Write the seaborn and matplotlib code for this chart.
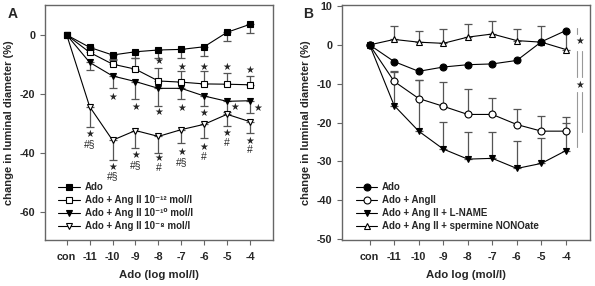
import matplotlib
matplotlib.use("Agg")
import numpy as np
import seaborn as sns
import matplotlib.pyplot as plt
from matplotlib.lines import Line2D

sns.set_style("ticks")
plt.rcParams['font.family'] = ['Liberation Sans', 'DejaVu Sans']
plt.rcParams['font.weight'] = 'bold'
plt.rcParams['axes.unicode_minus'] = False

# data
doses = ["con", "-11", "-10", "-9", "-8", "-7", "-6", "-5", "-4"]

# panel A
ado_a = [0, -4.2, -6.8, -5.7, -5.1, -4.9, -4.0, 0.9, 3.6]
ado_a_err = [0, 1.0, 1.2, 2.2, 2.8, 3.0, 3.0, 2.8, 2.8]
ang12 = [0, -5.9, -9.9, -11.6, -15.6, -16.0, -16.6, -16.7, -16.9]
ang12_err = [0, 1.0, 1.5, 3.7, 4.5, 3.8, 4.4, 3.9, 3.0]
ang10 = [0, -9.3, -13.9, -15.8, -18.1, -18.1, -20.7, -22.5, -22.3]
ang10_err = [0, 2.6, 4.2, 5.9, 5.9, 3.6, 3.4, 3.5, 4.0]
ang8 = [0, -24.3, -35.7, -32.4, -34.4, -32.1, -30.3, -26.9, -29.4]
ang8_err = [0, 6.8, 6.8, 6.0, 5.6, 4.6, 4.7, 3.9, 3.7]

# significance marks, panel A
star12_y = [-8.8, -10.7, -10.7, -10.7, -11.9]          # -8 .. -4
star10_y = [-20.9, -24.3, -26.2, -24.9, -26.5, -24.4, -24.9]  # -10 .. -4
star8_y = [-33.7, -44.7, -40.7, -41.8, -39.7, -37.9, -33.3, -35.9]  # -11 .. -4
sym8_y = [-37.0, -47.9, -44.2, -45.1, -43.1, -41.4, -36.8, -39.1]
sym8_txt = ["#§", "#§", "#§", "#", "#§", "#", "#", "#"]

# panel B
ado_b = [0, -4.3, -6.8, -5.7, -5.1, -4.9, -4.0, 0.8, 3.7]
angii = [0, -9.4, -13.8, -15.8, -17.9, -17.9, -20.5, -22.2, -22.2]
angii_err = [0, 2.8, 4.8, 6.2, 6.6, 4.2, 3.9, 3.9, 3.6]
lname = [0, -15.6, -22.2, -26.8, -29.4, -29.2, -31.8, -30.5, -27.2]
lname_err = [0, 8.5, 13.2, 7.0, 7.0, 6.8, 7.0, 6.6, 7.0]
spermine = [0, 1.4, 0.7, 0.4, 2.0, 2.8, 1.1, 0.7, -1.2]
spermine_err = [0, 3.4, 3.0, 3.7, 3.4, 3.4, 3.0, 4.1, 4.5]

pos = np.arange(len(doses))
ebar_col = "#555555"


def series(ax, y, err, direction, marker, filled):
    if err is not None:
        zeros = [0] * len(err)
        yerr = [err, zeros] if direction == "down" else [zeros, err]
        ax.errorbar(pos[1:], y[1:], yerr=np.array(yerr)[:, 1:], fmt="none",
                    ecolor=ebar_col, elinewidth=0.9, capsize=3, capthick=0.9, zorder=1)
    sns.lineplot(x=pos, y=y, ax=ax, color="black", linewidth=0.8, marker=marker,
                 markersize=5, markerfacecolor="black" if filled else "white",
                 markeredgecolor="black", markeredgewidth=0.8, zorder=3)


def mk(marker, filled):
    return Line2D([], [], color="black", lw=0.8, marker=marker, ms=5,
                  mfc="black" if filled else "white", mec="black", mew=0.8)


def style_axes(ax, xlim, ylim, yticks, xlabel, handles, labels):
    ax.set_xlim(xlim)
    ax.set_ylim(ylim)
    ax.set_yticks(yticks)
    ax.set_xticks(pos)
    ax.set_xticklabels(doses)
    for s in ax.spines.values():
        s.set_color("#666666")
        s.set_linewidth(1.0)
    ax.tick_params(axis="both", labelsize=7.8, length=3.5, width=0.8, color="#666666")
    ax.tick_params(axis="x", pad=5)
    ax.set_xlabel(xlabel, fontsize=8.2, fontweight="bold", labelpad=6)
    ax.set_ylabel("change in luminal diameter (%)", fontsize=8, fontweight="bold", labelpad=4)
    ax.legend(handles, labels, loc="lower left", bbox_to_anchor=(0.02, 0.0), frameon=False,
              fontsize=7, handlelength=2.2, labelspacing=0.3, handletextpad=0.5)


fig = plt.figure(figsize=(5.95, 2.86), dpi=100)
axA = fig.add_axes([0.0756, 0.161, 0.383, 0.822])
axB = fig.add_axes([0.575, 0.161, 0.417, 0.822])

# panel A
series(axA, ang8, ang8_err, "down", "v", False)
series(axA, ang10, ang10_err, "down", "v", True)
series(axA, ang12, ang12_err, "up", "s", False)
series(axA, ado_a, ado_a_err, "down", "s", True)
star_kw = dict(ha="center", va="center", fontsize=7, family=["DejaVu Sans"])
for i, yv in enumerate(star12_y):
    axA.text(pos[4 + i], yv, "★", **star_kw)
for i, yv in enumerate(star10_y):
    dx = 0.32 if i >= 5 else 0
    axA.text(pos[2 + i] + dx, yv, "★", **star_kw)
for i, yv in enumerate(star8_y):
    axA.text(pos[1 + i], yv, "★", **star_kw)
    axA.text(pos[1 + i], sym8_y[i], sym8_txt[i], ha="center", va="center",
             fontsize=7.5, fontweight="normal")
style_axes(axA, (-0.95, 9.0), (-69.5, 10.2), [0, -20, -40, -60], "Ado (log mol/l)",
           [mk("s", True), mk("s", False), mk("v", True), mk("v", False)],
           ["Ado", "Ado + Ang II 10⁻¹² mol/l", "Ado + Ang II 10⁻¹⁰ mol/l",
            "Ado + Ang II 10⁻⁸ mol/l"])

# panel B
series(axB, lname, lname_err, "up", "v", True)
series(axB, angii, angii_err, "up", "o", False)
series(axB, spermine, spermine_err, "up", "^", False)
series(axB, ado_b, None, "down", "o", True)
style_axes(axB, (-1.12, 8.99), (-50.2, 10.3), [10, 0, -10, -20, -30, -40, -50], "Ado log (mol/l)",
           [mk("o", True), mk("o", False), mk("v", True), mk("^", False)],
           ["Ado", "Ado + AngII", "Ado + Ang II + L-NAME", "Ado + Ang II + spermine NONOate"])

# significance bars, panel B
sig_col = "#999999"
axB.plot([8.45, 8.45], [4.4, 2.9], color=sig_col, lw=0.8)
axB.plot([8.45, 8.45], [-1.5, -8.3], color=sig_col, lw=0.8)
axB.plot([8.45, 8.45], [-12.2, -26.3], color=sig_col, lw=0.8)
axB.plot([8.65, 8.65], [-1.5, -8.3], color=sig_col, lw=0.8)
axB.plot([8.65, 8.65], [-12.2, -22.4], color=sig_col, lw=0.8)
axB.text(8.55, 0.9, "★", **star_kw)
axB.text(8.55, -10.2, "★", **star_kw)

fig.text(0.013, 0.975, "A", fontsize=10, fontweight="bold", va="top")
fig.text(0.509, 0.975, "B", fontsize=10, fontweight="bold", va="top")

fig.savefig("out.png", dpi=100)
